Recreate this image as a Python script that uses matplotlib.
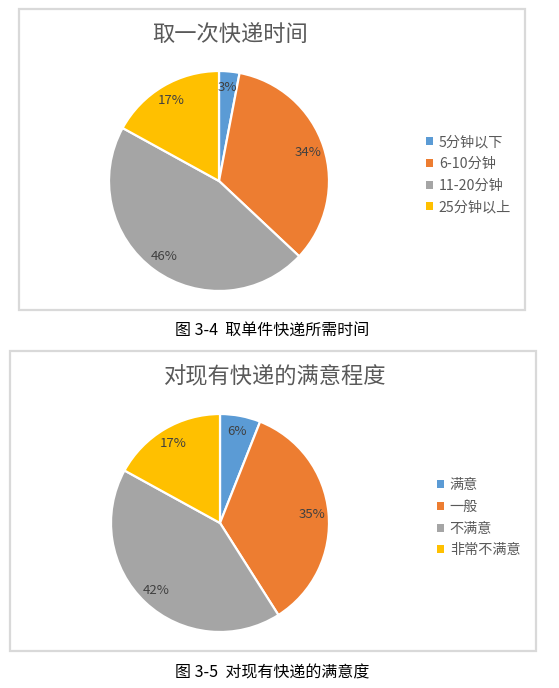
import matplotlib
matplotlib.use("Agg")
import matplotlib.pyplot as plt
from matplotlib.patches import Rectangle

plt.rcParams['font.family'] = ['Noto Sans CJK SC', 'DejaVu Sans']

# ---- data ----
title1 = "取一次快递时间"
labels1 = ["5分钟以下", "6-10分钟", "11-20分钟", "25分钟以上"]
values1 = [3, 34, 46, 17]
caption1 = "图 3-4  取单件快递所需时间"

title2 = "对现有快递的满意程度"
labels2 = ["满意", "一般", "不满意", "非常不满意"]
values2 = [6, 35, 42, 17]
caption2 = "图 3-5  对现有快递的满意度"

colors = ["#5B9BD5", "#ED7D31", "#A5A5A5", "#FFC000"]

W, H = 559, 688
fig = plt.figure(figsize=(W / 100, H / 100), dpi=100)
fig.patch.set_facecolor("white")


def px_rect(x0, y0, x1, y1):
    """pixel box (top-left origin) -> figure fraction [l, b, w, h]"""
    return [x0 / W, 1 - y1 / H, (x1 - x0) / W, (y1 - y0) / H]


def draw_chart(box, center, radius, title, title_xy, labels, values,
               legend_xy, caption, caption_xy, pctdist):
    x0, y0, x1, y1 = box
    fig.patches.append(Rectangle((x0 / W, 1 - y1 / H), (x1 - x0) / W, (y1 - y0) / H,
                                 transform=fig.transFigure, fill=False,
                                 edgecolor="#D9D9D9", linewidth=1.6))
    cx, cy = center
    ax = fig.add_axes(px_rect(cx - radius, cy - radius, cx + radius, cy + radius))
    wedges, texts, autotexts = ax.pie(
        values, colors=colors, startangle=90, counterclock=False,
        autopct=lambda p: f"{p:.0f}%", pctdistance=pctdist,
        wedgeprops=dict(edgecolor="white", linewidth=1.6),
        textprops=dict(color="#404040", fontsize=9.5))
    ax.set_xlim(-1, 1)
    ax.set_ylim(-1, 1)
    ax.set_aspect("equal")
    ax.axis("off")
    fig.text(title_xy[0] / W, 1 - title_xy[1] / H, title, ha="center", va="center",
             fontsize=16, color="#595959")
    leg = fig.legend(wedges, labels, loc="upper left",
                     bbox_to_anchor=(legend_xy[0] / W, 1 - legend_xy[1] / H),
                     frameon=False, fontsize=10.2, handlelength=0.5, handleheight=0.5,
                     handletextpad=0.4, labelspacing=0.55, borderpad=0, borderaxespad=0)
    for h in leg.legend_handles:
        h.set_edgecolor("none")
        h.set_linewidth(0)
    for t in leg.get_texts():
        t.set_color("#595959")
    fig.text(caption_xy[0] / W, 1 - caption_xy[1] / H, caption, ha="center", va="center",
             fontsize=11.5, color="black")


draw_chart((19, 9, 525, 310), (219, 181), 110, title1, (230, 35), labels1, values1,
           (426, 135), caption1, (272, 330), 0.85)
draw_chart((10, 351, 536, 651), (220, 523), 109, title2, (275, 377), labels2, values2,
           (437, 478), caption2, (272, 673), 0.85)

fig.savefig("out.png", dpi=100, facecolor="white")
